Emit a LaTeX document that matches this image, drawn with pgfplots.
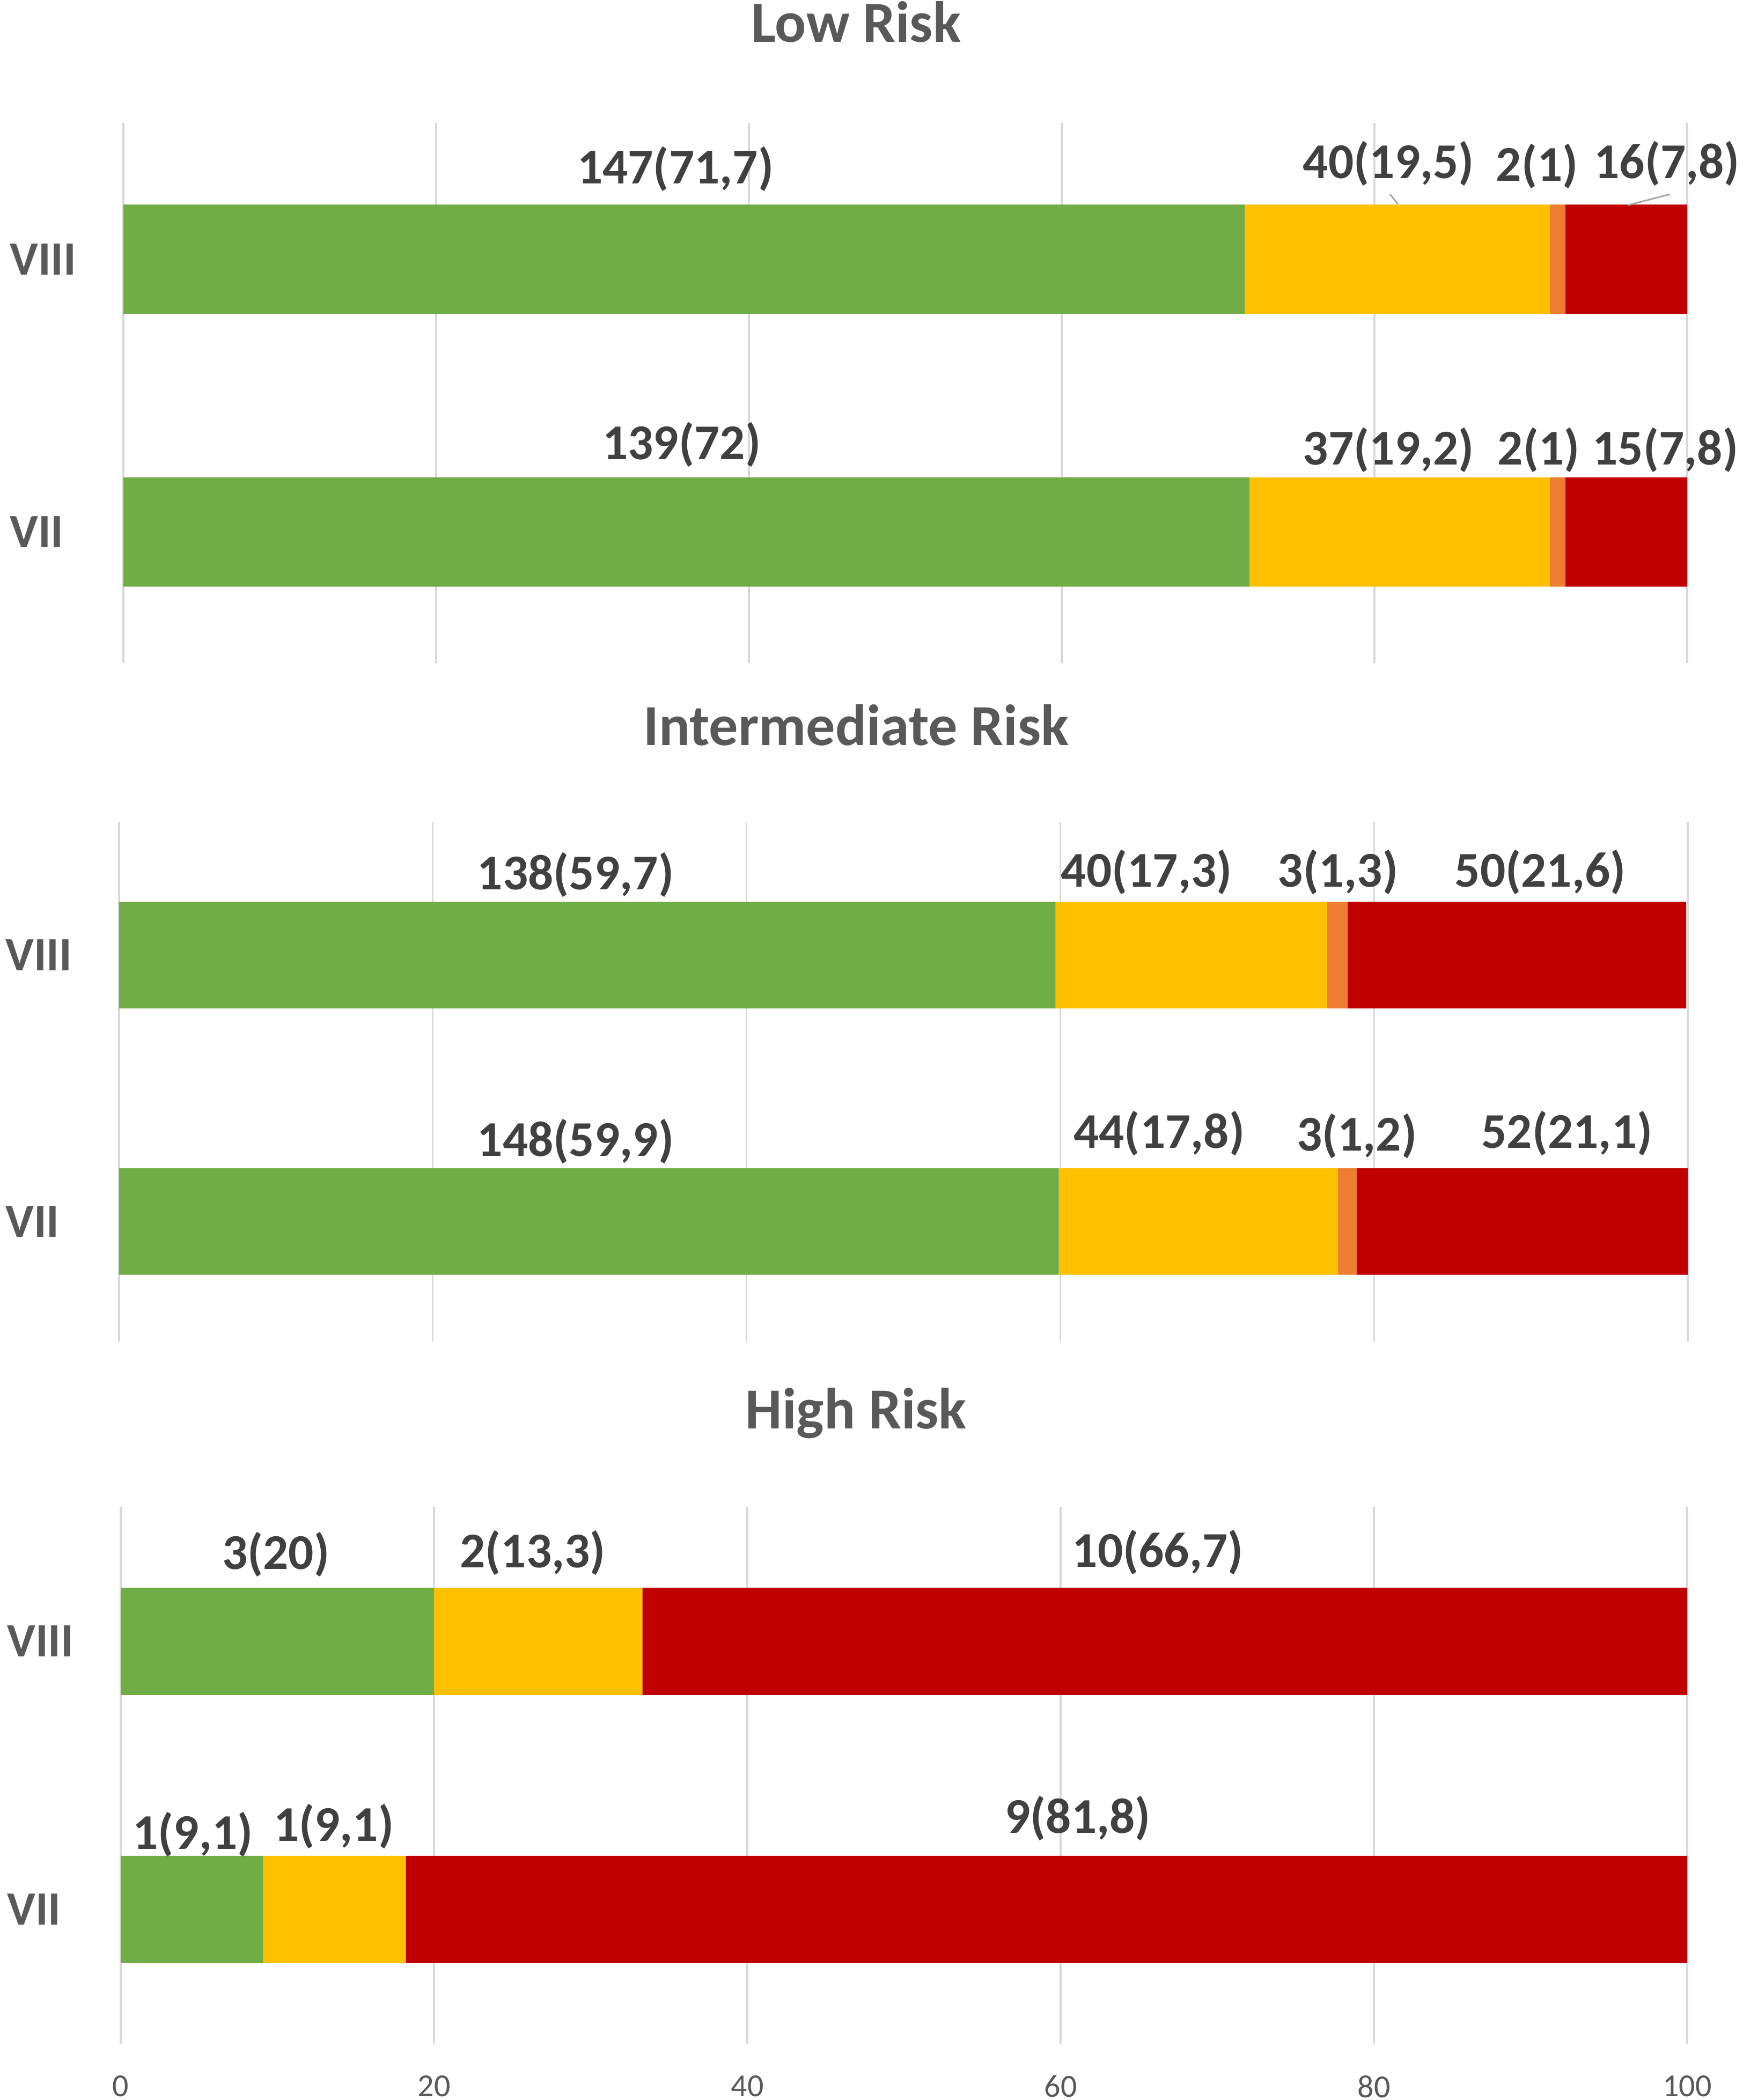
\documentclass[border=0pt]{standalone}
\usepackage{pgfplots}
\usepackage{pgfplotstable}
\pgfplotsset{compat=1.18}
\usepackage{fontspec}
\setmainfont{Carlito}
\definecolor{cgreen}{HTML}{70AD47}
\definecolor{cyellow}{HTML}{FFC000}
\definecolor{corange}{HTML}{ED7D31}
\definecolor{cred}{HTML}{C00000}
\definecolor{gridgray}{HTML}{D9D9D9}
\definecolor{labgray}{HTML}{404040}
\definecolor{axgray}{HTML}{595959}
\definecolor{leadgray}{HTML}{A6A6A6}

% stacked values (percent): y=0 -> VII, y=1 -> VIII
\pgfplotstableread{
y g yl o r
0 72   19.2 1   7.8
1 71.7 19.5 1   7.8
}\lowdata
\pgfplotstableread{
y g yl o r
0 59.9 17.8 1.2 21.1
1 59.7 17.3 1.3 21.6
}\intdata
\pgfplotstableread{
y g yl o r
0 9.1 9.1  0 81.8
1 20  13.3 0 66.7
}\highdata

% data label positions
\pgfplotstableread{
x y label
35.3 1.33 147(71,7)
80.9 1.35 40(19,5)
90.4 1.34 2(1)
98.7 1.35 16(7,8)
35.7 0.32 139(72)
80.9 0.30 37(19,2)
90.5 0.30 2(1)
98.6 0.30 15(7,8)
}\lowlab
\pgfplotstableread{
x y label
29.1 1.30 138(59,7)
65.5 1.31 40(17,3)
77.7 1.31 3(1,3)
90.6 1.31 50(21,6)
29.1 0.30 148(59,9)
66.3 0.33 44(17,8)
78.9 0.32 3(1,2)
92.3 0.33 52(21,1)
}\intlab
\pgfplotstableread{
x y label
9.9  1.325 3(20)
26.3 1.33 2(13,3)
66.2 1.333 10(66,7)
4.6  0.28 1(9,1)
13.6 0.31 1(9,1)
61.1 0.34 9(81,8)
}\highlab

\pgfplotsset{
  barpanel/.style={
    scale only axis, xmin=0, xmax=100, ymax=1.5,
    anchor=south west,
    xbar stacked, bar width=0.4,
    ytick={0,1}, yticklabels={VII,VIII},
    yticklabel style={anchor=west, inner sep=0pt, xshift=-25.6pt,
      font=\fontsize{10.7}{12}\selectfont\bfseries, text=axgray},
    xtick={0,20,40,60,80,100},
    xmajorgrids, major grid style={draw=gridgray, line width=0.4pt},
    axis line style={draw=none}, tick style={draw=none},
    /pgf/number format/assume math mode=true,
    xticklabel style={inner sep=0pt, yshift=-6.9pt,
      font=\fontsize{7.2}{8}\selectfont, text=axgray},
  },
  labpanel/.style={
    scale only axis, xmin=0, xmax=100, ymax=1.5,
    anchor=south west, hide axis, clip=false,
  },
  labplot/.style={
    draw=none, mark=none, nodes near coords,
    point meta=explicit symbolic,
    nodes near coords align={center},
    every node near coord/.append style={anchor=center, inner sep=0pt,
      font=\fontsize{11.2}{13}\selectfont\bfseries, text=labgray},
  },
}

\begin{document}
\begin{tikzpicture}
\useasboundingbox (0,0) rectangle (389.76pt,469.8pt);

% titles
\node[anchor=base, font=\fontsize{13}{15}\selectfont\bfseries, text=axgray] at (191.5pt,460.32pt) {Low Risk};
\node[anchor=base, font=\fontsize{13}{15}\selectfont\bfseries, text=axgray] at (191.5pt,303.0pt) {Intermediate Risk};
\node[anchor=base, font=\fontsize{13}{15}\selectfont\bfseries, text=axgray] at (191.5pt,150.12pt) {High Risk};

% ---- Low Risk ----
\begin{axis}[barpanel, at={(27.6pt,321.48pt)}, width=349.8pt, height=120.84pt, ymin=-0.48, xticklabels={}]
\addplot[fill=cgreen, draw=none] table[x=g, y=y] {\lowdata};
\addplot[fill=cyellow, draw=none] table[x=yl, y=y] {\lowdata};
\addplot[fill=corange, draw=none] table[x=o, y=y] {\lowdata};
\addplot[fill=cred, draw=none] table[x=r, y=y] {\lowdata};
\end{axis}
\begin{axis}[labpanel, at={(27.6pt,321.48pt)}, width=349.8pt, height=120.84pt, ymin=-0.48]
\addplot[labplot] table[x=x, y=y, meta=label] {\lowlab};
\addplot[leadgray, line width=0.35pt, mark=none] coordinates {(81.0,1.238) (81.5,1.202)};
\addplot[leadgray, line width=0.35pt, mark=none] coordinates {(98.9,1.238) (96.2,1.198)};
\end{axis}

% ---- Intermediate Risk ----
\begin{axis}[barpanel, at={(26.64pt,169.68pt)}, width=350.88pt, height=116.28pt, ymin=-0.45, xticklabels={}]
\addplot[fill=cgreen, draw=none] table[x=g, y=y] {\intdata};
\addplot[fill=cyellow, draw=none] table[x=yl, y=y] {\intdata};
\addplot[fill=corange, draw=none] table[x=o, y=y] {\intdata};
\addplot[fill=cred, draw=none] table[x=r, y=y] {\intdata};
\end{axis}
\begin{axis}[labpanel, at={(26.64pt,169.68pt)}, width=350.88pt, height=116.28pt, ymin=-0.45]
\addplot[labplot] table[x=x, y=y, meta=label] {\intlab};
\end{axis}

% ---- High Risk ----
\begin{axis}[barpanel, at={(27pt,12.6pt)}, width=350.4pt, height=120pt, ymin=-0.5]
\addplot[fill=cgreen, draw=none] table[x=g, y=y] {\highdata};
\addplot[fill=cyellow, draw=none] table[x=yl, y=y] {\highdata};
\addplot[fill=corange, draw=none] table[x=o, y=y] {\highdata};
\addplot[fill=cred, draw=none] table[x=r, y=y] {\highdata};
\end{axis}
\begin{axis}[labpanel, at={(27pt,12.6pt)}, width=350.4pt, height=120pt, ymin=-0.5]
\addplot[labplot] table[x=x, y=y, meta=label] {\highlab};
\end{axis}
\end{tikzpicture}
\end{document}
